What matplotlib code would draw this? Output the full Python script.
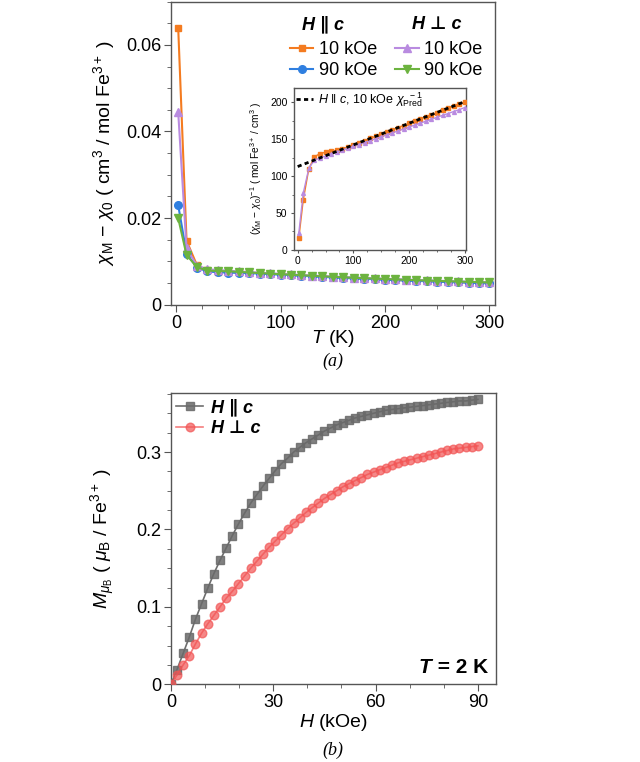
import matplotlib
matplotlib.use("Agg")
import matplotlib.pyplot as plt
from matplotlib.ticker import MultipleLocator
from matplotlib.offsetbox import TextArea, HPacker, AnchoredOffsetbox

plt.rcParams['font.family'] = ['Liberation Sans', 'DejaVu Sans']
plt.rcParams['mathtext.fontset'] = 'custom'
plt.rcParams['mathtext.rm'] = 'Liberation Sans'
plt.rcParams['mathtext.it'] = 'Liberation Sans:italic'
plt.rcParams['mathtext.bf'] = 'Liberation Sans:bold'

# ---- panel (a): chi_M - chi_0 vs T ----
T = [2, 10, 20, 30, 40, 50, 60, 70, 80, 90, 100, 110, 120, 130, 140, 150,
     160, 170, 180, 190, 200, 210, 220, 230, 240, 250, 260, 270, 280, 290, 300]
chi_par_10 = [0.06400, 0.01480, 0.00910, 0.00792, 0.00766, 0.00755, 0.00748, 0.00741,
              0.00731, 0.00717, 0.00703, 0.00689, 0.00675, 0.00662, 0.00649, 0.00637,
              0.00625, 0.00614, 0.00603, 0.00593, 0.00583, 0.00573, 0.00563, 0.00554,
              0.00546, 0.00537, 0.00529, 0.00521, 0.00513, 0.00505, 0.00498]
chi_par_90 = [0.02300, 0.01180, 0.00860, 0.00770, 0.00752, 0.00744, 0.00737, 0.00730,
              0.00721, 0.00709, 0.00696, 0.00683, 0.00670, 0.00657, 0.00645, 0.00633,
              0.00621, 0.00610, 0.00600, 0.00590, 0.00580, 0.00570, 0.00561, 0.00552,
              0.00544, 0.00535, 0.00527, 0.00519, 0.00511, 0.00504, 0.00497]
chi_perp_10 = [0.04450, 0.01300, 0.00905, 0.00820, 0.00803, 0.00786, 0.00770, 0.00755,
               0.00740, 0.00726, 0.00713, 0.00700, 0.00687, 0.00675, 0.00663, 0.00652,
               0.00641, 0.00630, 0.00620, 0.00610, 0.00600, 0.00591, 0.00582, 0.00573,
               0.00565, 0.00556, 0.00548, 0.00541, 0.00533, 0.00526, 0.00518]
chi_perp_90 = [0.02000, 0.01150, 0.00870, 0.00790, 0.00780, 0.00772, 0.00760, 0.00746,
               0.00732, 0.00719, 0.00706, 0.00693, 0.00681, 0.00669, 0.00657, 0.00646,
               0.00635, 0.00624, 0.00614, 0.00604, 0.00595, 0.00586, 0.00577, 0.00568,
               0.00560, 0.00552, 0.00544, 0.00537, 0.00529, 0.00522, 0.00515]
# fitted inverse susceptibility (H || c, 10 kOe)
T_pred = [0, 300]
inv_pred = [113, 201]

# ---- panel (b): M vs H at 2 K ----
H = [0, 1.8, 3.6, 5.4, 7.2, 9.0, 10.8, 12.6, 14.4, 16.2, 18.0, 19.8, 21.6, 23.4, 25.2,
     27.0, 28.8, 30.6, 32.4, 34.2, 36.0, 37.8, 39.6, 41.4, 43.2, 45.0, 46.8, 48.6,
     50.4, 52.2, 54.0, 55.8, 57.6, 59.4, 61.2, 63.0, 64.8, 66.6, 68.4, 70.2, 72.0,
     73.8, 75.6, 77.4, 79.2, 81.0, 82.8, 84.6, 86.4, 88.2, 90.0]
M_par = [0, 0.019, 0.040, 0.061, 0.084, 0.104, 0.124, 0.143, 0.160, 0.176, 0.192,
         0.207, 0.221, 0.234, 0.245, 0.256, 0.266, 0.276, 0.285, 0.292, 0.300, 0.306,
         0.312, 0.317, 0.322, 0.327, 0.331, 0.335, 0.338, 0.341, 0.344, 0.346, 0.348,
         0.350, 0.352, 0.354, 0.355, 0.356, 0.357, 0.358, 0.359, 0.360, 0.361, 0.362,
         0.363, 0.364, 0.365, 0.366, 0.366, 0.367, 0.368]
M_perp = [0, 0.012, 0.025, 0.037, 0.052, 0.066, 0.078, 0.089, 0.100, 0.111, 0.120,
          0.130, 0.140, 0.150, 0.159, 0.168, 0.177, 0.185, 0.193, 0.201, 0.208, 0.215,
          0.222, 0.228, 0.234, 0.240, 0.245, 0.250, 0.255, 0.259, 0.263, 0.267, 0.271,
          0.274, 0.277, 0.280, 0.283, 0.286, 0.288, 0.290, 0.292, 0.294, 0.296, 0.298,
          0.300, 0.302, 0.304, 0.305, 0.306, 0.307, 0.308]

c_or, c_bl, c_pu, c_gr = '#F47B20', '#2F7FE0', '#B98BE0', '#6CB33F'
spine_col = '#555555'
bold_it = dict(family=['Liberation Sans', 'DejaVu Sans'], weight='bold', style='italic')


def style_axes(ax, size=12, major=5, minor=3):
    for s in ax.spines.values():
        s.set_color(spine_col)
        s.set_linewidth(1.0)
    ax.tick_params(which='both', direction='out', color=spine_col, labelsize=size,
                   top=False, right=False, pad=2)
    ax.tick_params(which='major', length=major)
    ax.tick_params(which='minor', length=minor)


def label_box(ax, parts, size, loc, bbox):
    boxes = [TextArea(t, textprops=dict(fontsize=size, **p)) for t, p in parts]
    pack = HPacker(children=boxes, align='baseline', pad=0, sep=0)
    ab = AnchoredOffsetbox(loc=loc, child=pack, frameon=False, pad=0,
                           bbox_to_anchor=bbox, bbox_transform=ax.transAxes, borderpad=0)
    ax.add_artist(ab)


fig = plt.figure(figsize=(6.4, 7.62), dpi=100)

# ================= (a) =================
ax1 = fig.add_axes([0.267, 0.600, 0.506, 0.398])
ax1.plot(T, chi_par_10, '-s', color=c_or, ms=5, lw=1.5, label='10 kOe', zorder=3)
ax1.plot(T, chi_par_90, '-o', color=c_bl, ms=5.5, lw=1.5, label='90 kOe', zorder=4)
ax1.plot(T, chi_perp_10, '-^', color=c_pu, ms=6, lw=1.5, label='10 kOe', zorder=5)
ax1.plot(T, chi_perp_90, '-v', color=c_gr, ms=6, lw=1.5, label='90 kOe', zorder=6)
ax1.set_xlim(-5, 305)
ax1.set_ylim(0, 0.07)
ax1.xaxis.set_major_locator(MultipleLocator(100))
ax1.xaxis.set_minor_locator(MultipleLocator(25))
ax1.yaxis.set_minor_locator(MultipleLocator(0.005))
ax1.set_yticks([0, 0.02, 0.04, 0.06], ['0', '0.02', '0.04', '0.06'])
style_axes(ax1, size=13)
ax1.set_xlabel(r'$T$ (K)', fontsize=14)
ax1.xaxis.set_label_coords(0.5, -0.075)
ax1.set_ylabel(r'$\chi_{\rm M}$ $-$ $\chi_0$ ( cm$^3$ / mol Fe$^{3+}$ )', fontsize=14)
ax1.yaxis.set_label_coords(-0.165, 0.5)

h = ax1.get_legend_handles_labels()[0]
ax1.legend(h, ['10 kOe', '90 kOe', '10 kOe', '90 kOe'], ncol=2, loc='upper right',
           bbox_to_anchor=(0.99, 0.90), frameon=False, fontsize=13, handlelength=1.3,
           handletextpad=0.3, columnspacing=1.0, labelspacing=0.25, borderpad=0)
label_box(ax1, [('H \u2225 c', bold_it)], 13, 'center', (0.47, 0.925))
label_box(ax1, [('H \u22a5 c', bold_it)], 13, 'center', (0.82, 0.925))

# inset: inverse susceptibility
axi = fig.add_axes([0.459, 0.672, 0.269, 0.213])
inv_par_10 = [1 / v for v in chi_par_10]
inv_perp_10 = [1 / v for v in chi_perp_10]
axi.plot(T, inv_par_10, '-s', color=c_or, ms=2.5, lw=1.0, zorder=3)
axi.plot(T, inv_perp_10, '-^', color=c_pu, ms=2.8, lw=1.0, zorder=4)
axi.plot(T_pred, inv_pred, color='black', lw=2.0, ls=(0, (1.5, 1.2)), zorder=5,
         label=r'$H$ $\|$ $c$, 10 kOe $\chi_{\rm Pred}^{\ \ -1}$')
axi.set_xlim(-7, 302)
axi.set_ylim(0, 220)
axi.xaxis.set_major_locator(MultipleLocator(100))
axi.xaxis.set_minor_locator(MultipleLocator(25))
axi.yaxis.set_major_locator(MultipleLocator(50))
axi.yaxis.set_minor_locator(MultipleLocator(25))
style_axes(axi, size=7.5, major=2.5, minor=1.5)
axi.set_ylabel(r'$(\chi_{\rm M}$ $-$ $\chi_0)^{-1}$ ( mol Fe$^{3+}$ / cm$^3$ )', fontsize=7.3)
axi.yaxis.set_label_coords(-0.17, 0.5)
axi.legend(loc='upper left', frameon=False, fontsize=9, handlelength=1.3,
           handletextpad=0.4, borderpad=0.1, borderaxespad=0.1)

fig.text(0.52, 1 - 361 / 762, '(a)', ha='center', va='center', fontsize=13,
         family='Liberation Serif', style='italic')

# ================= (b) =================
ax2 = fig.add_axes([0.267, 0.102, 0.508, 0.382])
ax2.plot(H, M_par, '-s', color='#555555', mfc='#6a6a6a', mec='#6a6a6a', ms=5.5,
         lw=1.2, alpha=0.85, label='H \u2225 c', zorder=3)
ax2.plot(H, M_perp, '-o', color='#F04848', mfc='#F25555', mec='#F25555', ms=6.2,
         lw=1.2, alpha=0.7, label='H \u22a5 c', zorder=4)
ax2.set_xlim(0, 95.3)
ax2.set_ylim(0, 0.376)
ax2.xaxis.set_major_locator(MultipleLocator(30))
ax2.xaxis.set_minor_locator(MultipleLocator(10))
ax2.set_yticks([0, 0.1, 0.2, 0.3], ['0', '0.1', '0.2', '0.3'])
ax2.yaxis.set_minor_locator(MultipleLocator(0.025))
style_axes(ax2, size=13)
ax2.set_xlabel(r'$H$ (kOe)', fontsize=14)
ax2.xaxis.set_label_coords(0.5, -0.095)
ax2.set_ylabel(r'$M_{\mu_{\rm B}}$ ( $\mu_{\rm B}$ / Fe$^{3+}$ )', fontsize=14)
ax2.yaxis.set_label_coords(-0.165, 0.5)
ax2.legend(loc='upper left', frameon=False, handlelength=1.5, handletextpad=0.4,
           labelspacing=0.2, borderpad=0.1, borderaxespad=0.2,
           prop=dict(size=13, **bold_it))
label_box(ax2, [('T', bold_it), (' = 2 K', dict(weight='bold'))], 15,
          'lower right', (0.975, 0.025))

fig.text(0.52, 1 - 750 / 762, '(b)', ha='center', va='center', fontsize=13,
         family='Liberation Serif', style='italic')

fig.savefig('out.png', dpi=100)
